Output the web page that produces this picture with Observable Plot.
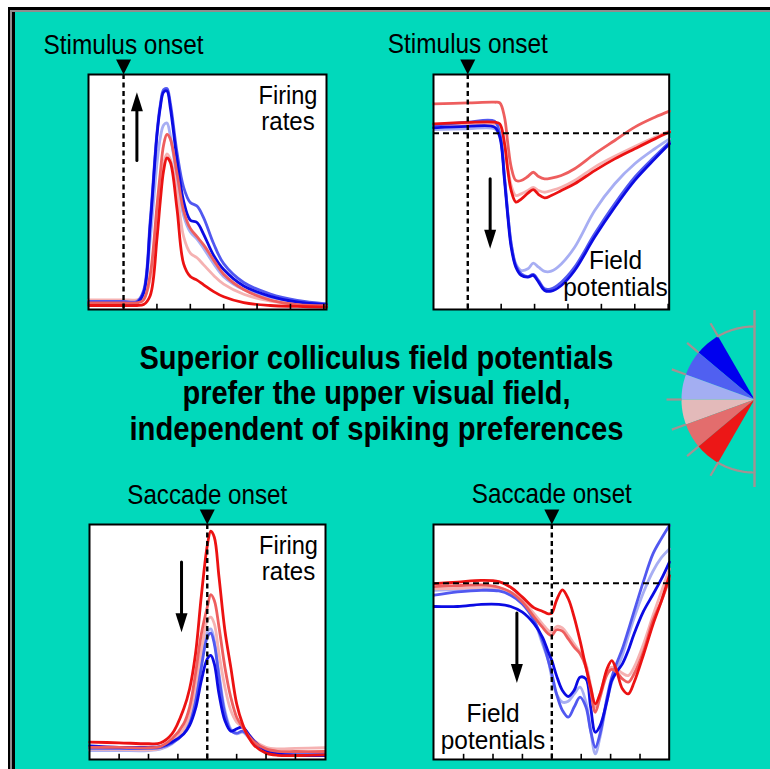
<!DOCTYPE html>
<html>
<head>
<meta charset="utf-8">
<script src="https://cdn.jsdelivr.net/npm/d3@7"></script>
<script src="https://cdn.jsdelivr.net/npm/@observablehq/plot@0.6"></script>
<style>
html, body { margin: 0; padding: 0; background: #fff; }
#root { position: relative; width: 770px; height: 769px; overflow: hidden; background: #fff; }
.blk { position: absolute; }
</style>
</head>
<body>
<div id="root"></div>
<script>
// ---------- DATA ----------
// Panel A: firing rates aligned to stimulus onset (time in ms, value in % of panel height)
const stimTimes = [-52,-20,0,20,30,40,50,55,60,65,70,80,90,100,110,120,135,150,180,220,260,304];
const stimFR_darkBlue  = [2.7,2.7,2.7,2.8,7,36,74,86,92.5,93,86,64,46,38,37,32,23,17,10,5.6,3.2,2];
const stimFR_medBlue   = [3.4,3.4,3.4,3.4,8,38,75,87,93.5,94,88,67,52,45.5,44,39,28,19.5,11.5,6.6,3.9,2.4];
const stimFR_lightBlue = [3.8,3.8,3.8,3.8,7,30,62,73,78.5,79.3,74,56,40,33,30,26,19.5,14,8.5,5.2,3.2,2.4];
const stimFR_pink      = [4.1,4.1,4.1,4.1,4.8,13,38,52,62,66.2,64,50,31,24,22,19,14.5,10.8,6.5,3.6,2.4,2];
const stimFR_salmon    = [2.8,2.8,2.8,2.8,4,15,44,58,70,74.5,72.6,58,42,34.5,31,27.5,21,15,8.5,4,2.1,1.6];
const stimFR_red       = [1.7,1.7,1.7,1.7,2.1,6,30,46,59,64.5,62.7,43,19.4,14,12.5,10.5,7.6,5.4,2.9,1.7,1.3,1];

// Panel B: field potentials aligned to stimulus onset
const stimLfpTimes = [-51,0,40,48,55,60,65,72,80,90,98,106,115,125,140,160,190,220,250,280,302];
const stimLFP_salmon    = [87.5,87.9,88.2,87.9,81.8,70.5,60.6,54.9,54.9,56.6,58.4,56.6,55.6,55.9,57,59.9,66.2,71.9,77.6,81.8,84.4];
const stimLFP_red       = [79,79.6,79.7,79,70.5,59.1,50.6,45.7,47,49.5,51,48.9,47.5,48.5,50.6,53.5,59.1,64.1,68.4,72.6,75.5];
const stimLFP_pink      = [78.3,78.6,78.9,78.5,71.3,60.6,52.8,48.5,49.2,50.6,52,50.6,49.9,50.6,52,54.9,60.6,65.2,69.4,73.3,75.9];
const stimLFP_darkBlue  = [77.3,77.9,77.6,73.3,54.9,39.3,26.5,18,14.5,13.8,14.5,11.6,8.1,7.8,10.2,16.6,30.8,43.5,54.9,64.1,70.5];
const stimLFP_medBlue   = [78.3,79.7,80.1,74.8,56.3,40.7,28,18.7,15.2,14,14.9,12.3,8.8,8.8,11.6,18,32.2,45,56.3,65.1,71.2];
const stimLFP_lightBlue = [76.5,76.9,76.9,74,56.3,40.7,28,19.4,16.6,17.3,19.7,18,16.2,16.3,19.4,26.5,42.1,53.5,62,68.4,72.6];

// Panel C: firing rates aligned to saccade onset
const sacTimes = [-100,-75,-50,-40,-30,-20,-15,-10,-5,0,3,6,10,15,20,25,30,35,40,50,60,75,100];
const sacFR_red       = [7.4,7.1,6.7,7.0,10.9,21.6,30.1,45,69.8,91,97.2,94.6,77.6,54.9,39.3,23.7,15.2,9.5,6,2.7,1.8,1.7,2];
const sacFR_salmon    = [5.2,5.2,5,5.5,8.8,15.2,22.3,36.5,53.5,64.8,70.2,67.7,56.3,39.3,26.5,18,13.8,10.2,7.4,4.5,3.5,3.4,3.4];
const sacFR_pink      = [4.4,4.3,4.1,4.7,7.4,13,18.7,30.8,46.4,59.1,60.6,57.7,45,30.8,20.9,15.9,13.8,10.9,8.1,5.2,4.5,4.7,5];
const sacFR_lightBlue = [3.8,3.8,3.8,4.4,6.7,11.6,16.6,26.5,42.1,54.2,55.6,50.6,36.5,20.9,13,10.9,11.6,9.5,7,3.8,2.7,2.4,2.4];
const sacFR_medBlue   = [4.7,4.7,4.7,5,7,10.9,15.2,24.4,39.3,52,53.8,49.2,35,19.4,12.3,11.2,12.1,10.2,7.4,3.8,2.7,2.1,2.1];
const sacFR_darkBlue  = [5.8,5.2,5.2,5.5,7.4,10.9,14.5,21.6,33.6,42.8,44.3,40.7,27.9,16.6,12.1,13,13.8,10.9,7.8,3.8,2.4,1.7,1.7];

// Panel D: field potentials aligned to saccade onset
const sacLfpTimes = [-100,-80,-60,-45,-35,-25,-15,-8,-3,0,4,9,14,19,24,29,33,37,41,47,51,55,60,65,70,78,86,93,100];
const sacLFP_red       = [74.8,75.5,76.2,75.7,73.3,69.1,64.5,63.1,62,62.3,67.7,72.2,68.4,60.6,50.6,39.3,30.8,23.7,27.9,38.6,42.1,37.9,30.1,27.9,32.9,44.7,57.4,67.2,78.3];
const sacLFP_salmon    = [73.6,74,74.3,73.3,71.2,67,60.6,56.3,53.5,52.8,55.2,54.6,51.3,47.8,45,39.3,29.4,20.1,26.5,36.2,38.3,37.2,34.3,32.9,36.5,46.1,59.1,67.2,76.9];
const sacLFP_pink      = [72.6,72.8,73.3,73,71.2,67.7,62,57.7,54.9,54.2,56.6,56,52.8,49.2,45.7,40.7,31.6,22.3,27.9,37.2,39.3,38.6,36.7,35.7,39.3,49.2,61.3,71.2,81.1];
const sacLFP_darkBlue  = [65.1,65.1,66,66,65.1,62.7,57.7,52.1,45.7,42.1,35.7,29.4,26.8,29.4,35,34.3,22.3,11.6,14.3,25,33.6,37.2,40.7,46.4,53.5,63.1,70.2,76.6,84];
const sacLFP_medBlue   = [69.9,71.3,72,71.7,69.9,66.2,59.1,50.6,42.1,36.5,27.9,20.9,18,22.3,26.5,22.3,12.3,5.2,10.9,26.5,35,40.7,47.1,54.9,63.1,75.9,87.5,93.9,99.6];
const sacLFP_lightBlue = [72,72.3,72.6,72.6,71.2,67,59.1,49.2,42.1,34.8,27.9,24.4,24.8,27.9,30.8,24.4,12.3,2.4,9.5,25,32.9,37.9,44.3,52.5,60.3,71.2,80.1,85.8,89.6];

// Axis ticks
const stimTicks = [0,50,100,150,200,250,300];
const sacTicks = [-75,-50,-25,0,25,50,75];
// Baseline reference for field potentials
const lfpBaseline = 75;

// Arrows: [time, from, to]
const arrowStimFR  = [20, 63.4, 92.5];
const arrowStimLFP = [33.5, 55.6, 25.8];
const arrowSacFR   = [-21.9, 84, 54.2];
const arrowSacLFP  = [-29.7, 62.3, 32.5];

// Texts
const headerStim = "Stimulus onset";
const headerSac = "Saccade onset";
const labelFR = ["Firing", "rates"];
const labelLFP = ["Field", "potentials"];
const titleLines = ["Superior colliculus field potentials", "prefer the upper visual field,", "independent of spiking preferences"];

// Fan (visual field) diagram: wedge edges in degrees (0 = horizontal, + = upper)
const fanEdges = [60, 40, 20, 0, -20, -40, -60];
const fanColors = ["#0000EE", "#5060F1", "#A3AEF2", "#E3BABA", "#E36D6D", "#EC1717"];

// ---------- STYLE ----------
const COLORS = {lightBlue: "#A7AEF3", pink: "#F5B2B2", medBlue: "#5158F0", darkBlue: "#0B0BE3", salmon: "#EE5E5E", red: "#EC1212"};
const seriesOrder = ["lightBlue", "pink", "medBlue", "darkBlue", "salmon", "red"];
const FONT = "Liberation Sans, Arial, Helvetica, sans-serif";
const TEAL = "#01D9BB";
const GRAY = "#A49292";

const textWidths = {
  "Stimulus onset": 160, "Saccade onset": 160,
  "Firing": 59, "rates": 53.5, "Field": 53, "potentials": 104.5,
  "Superior colliculus field potentials": 474,
  "prefer the upper visual field,": 388,
  "independent of spiking preferences": 494
};

const triDown = {draw(ctx) { ctx.moveTo(0, 0); ctx.lineTo(-7.5, -15); ctx.lineTo(7.5, -15); ctx.closePath(); }};
const arrowUp = {draw(ctx) { ctx.moveTo(0, 0); ctx.lineTo(6, 19); ctx.lineTo(-6, 19); ctx.closePath(); }};
const arrowDown = {draw(ctx) { ctx.moveTo(0, 0); ctx.lineTo(6, -19); ctx.lineTo(-6, -19); ctx.closePath(); }};

const root = document.getElementById("root");
function addBlock(left, top, color) {
  const d = document.createElement("div");
  d.className = "blk";
  Object.assign(d.style, {left: left + "px", top: top + "px", right: "0px", bottom: "0px", background: color});
  root.appendChild(d);
}
addBlock(8, 7, "#000");
addBlock(10, 10, "#8e8e8e");
addBlock(12, 12, "#000");
addBlock(15, 12, TEAL);

function place(svg, left, top) {
  svg.style.position = "absolute";
  svg.style.left = left + "px";
  svg.style.top = top + "px";
  root.appendChild(svg);
  svg.querySelectorAll("text").forEach(t => {
    const w = textWidths[t.textContent];
    if (w) { t.setAttribute("textLength", w); t.setAttribute("lengthAdjust", "spacingAndGlyphs"); }
  });
}

const panels = [
  {box: [88, 74, 326, 309], xDomain: [-52.5, 304], times: stimTimes,
   values: {darkBlue: stimFR_darkBlue, medBlue: stimFR_medBlue, lightBlue: stimFR_lightBlue, pink: stimFR_pink, salmon: stimFR_salmon, red: stimFR_red},
   ticks: stimTicks, header: headerStim, hline: null, arrow: arrowStimFR,
   labels: [{text: labelFR[0], anchor: "top-right", dx: -38.5, dy: 29.5}, {text: labelFR[1], anchor: "top-right", dx: -38.5, dy: 55.5}]},
  {box: [433, 74, 668.7, 309], xDomain: [-51.3, 301.5], times: stimLfpTimes,
   values: {darkBlue: stimLFP_darkBlue, medBlue: stimLFP_medBlue, lightBlue: stimLFP_lightBlue, pink: stimLFP_pink, salmon: stimLFP_salmon, red: stimLFP_red},
   ticks: stimTicks, header: headerStim, hline: lfpBaseline, arrow: arrowStimLFP,
   labels: [{text: labelLFP[0], anchor: "top-right", dx: -53.7, dy: 195}, {text: labelLFP[1], anchor: "top-right", dx: -53.7, dy: 222}]},
  {box: [89, 524, 325, 759], xDomain: [-100.2, 100.6], times: sacTimes,
   values: {darkBlue: sacFR_darkBlue, medBlue: sacFR_medBlue, lightBlue: sacFR_lightBlue, pink: sacFR_pink, salmon: sacFR_salmon, red: sacFR_red},
   ticks: sacTicks, header: headerSac, hline: null, arrow: arrowSacFR,
   labels: [{text: labelFR[0], anchor: "top-right", dx: -37, dy: 29}, {text: labelFR[1], anchor: "top-right", dx: -37, dy: 55}]},
  {box: [433, 524, 668.7, 759], xDomain: [-100.6, 99.8], times: sacLfpTimes,
   values: {darkBlue: sacLFP_darkBlue, medBlue: sacLFP_medBlue, lightBlue: sacLFP_lightBlue, pink: sacLFP_pink, salmon: sacLFP_salmon, red: sacLFP_red},
   ticks: sacTicks, header: headerSac, hline: lfpBaseline, arrow: arrowSacLFP,
   labels: [{text: labelLFP[0], anchor: "top-left", dx: 59.5, dy: 197.5}, {text: labelLFP[1], anchor: "top-left", dx: 59.5, dy: 225}]}
];

const mL = 70, mT = 64, mR = 14, mB = 14;
for (const p of panels) {
  const [x0, y0, x1, y1] = p.box;
  const marks = [Plot.frame({fill: "white", stroke: "none"})];
  for (const key of seriesOrder) {
    marks.push(Plot.line(p.times, {x: p.times, y: p.values[key], stroke: COLORS[key], strokeWidth: 2.8,
      curve: "catmull-rom", strokeLinejoin: "round", strokeLinecap: "round"}));
  }
  if (p.hline != null) marks.push(Plot.ruleY([p.hline], {stroke: "black", strokeWidth: 2.2, strokeDasharray: "6,4"}));
  marks.push(Plot.ruleX([0], {stroke: "black", strokeWidth: 2.4, strokeDasharray: "5,3.5"}));
  marks.push(Plot.ruleX(p.ticks, {y1: 0, y2: 2.2, stroke: "black", strokeWidth: 1.6}));
  marks.push(Plot.frame({stroke: "black", strokeWidth: 2}));
  marks.push(Plot.dot([0], {x: d => d, frameAnchor: "top", symbol: triDown, fill: "black", stroke: "none"}));
  marks.push(Plot.text([p.header], {x: () => 0, text: d => d, frameAnchor: "top", dy: -21, lineAnchor: "bottom",
    fontSize: 27, fontFamily: FONT, fill: "black"}));
  for (const l of p.labels) {
    marks.push(Plot.text([l.text], {text: d => d, frameAnchor: l.anchor, dx: l.dx, dy: l.dy, textAnchor: "middle",
      lineAnchor: "bottom", fontSize: 25, fontFamily: FONT, fill: "black"}));
  }
  const arr = [{t: p.arrow[0], from: p.arrow[1], to: p.arrow[2]}];
  marks.push(Plot.arrow(arr, {x1: "t", x2: "t", y1: "from", y2: "to", stroke: "black", strokeWidth: 3, headLength: 0, insetEnd: 12}));
  marks.push(Plot.dot(arr, {x: "t", y: "to", symbol: arr[0].to > arr[0].from ? arrowUp : arrowDown, fill: "black", stroke: "none"}));

  const svg = Plot.plot({
    width: (x1 - x0) + mL + mR, height: (y1 - y0) + mT + mB,
    marginLeft: mL, marginTop: mT, marginRight: mR, marginBottom: mB,
    x: {domain: p.xDomain, axis: null},
    y: {domain: [0, 100], axis: null},
    style: {background: "none", overflow: "visible", maxWidth: "none"},
    marks
  });
  place(svg, x0 - mL, y0 - mT);
}

// ---------- TITLE ----------
const titleBaselines = [368, 403, 439];
const titleSvg = Plot.plot({
  width: 770, height: 130, margin: 0,
  style: {background: "none", overflow: "visible", maxWidth: "none"},
  marks: titleLines.map((line, i) => Plot.text([line], {text: d => d, frameAnchor: "top-left", dx: 376, dy: titleBaselines[i] - 330,
    textAnchor: "middle", lineAnchor: "bottom", fontSize: 34, fontWeight: "bold", fontFamily: FONT, fill: "black"}))
});
place(titleSvg, 0, 330);

// ---------- FAN ----------
const FAN_R = 73, FAN_TICK_R = 88;
const rad = a => a * Math.PI / 180;
function arcPts(a0, a1, r) {
  const pts = [];
  const n = Math.max(2, Math.ceil(Math.abs(a1 - a0) / 2));
  for (let k = 0; k <= n; k++) {
    const a = a0 + (a1 - a0) * k / n;
    pts.push({x: -r * Math.cos(rad(a)), y: r * Math.sin(rad(a))});
  }
  return pts;
}
const fanMarks = [];
for (let i = 0; i < fanColors.length; i++) {
  const pts = [{x: 0, y: 0}, ...arcPts(fanEdges[i], fanEdges[i + 1], FAN_R), {x: 0, y: 0}];
  fanMarks.push(Plot.line(pts, {x: "x", y: "y", fill: fanColors[i], stroke: "none", curve: "linear"}));
}
fanMarks.push(Plot.line(arcPts(fanEdges[0], 90, FAN_R), {x: "x", y: "y", stroke: GRAY, strokeWidth: 2.2}));
fanMarks.push(Plot.line(arcPts(fanEdges[fanEdges.length - 1], -90, FAN_R), {x: "x", y: "y", stroke: GRAY, strokeWidth: 2.2}));
fanMarks.push(Plot.link(fanEdges, {
  x1: a => -FAN_R * Math.cos(rad(a)), y1: a => FAN_R * Math.sin(rad(a)),
  x2: a => -FAN_TICK_R * Math.cos(rad(a)), y2: a => FAN_TICK_R * Math.sin(rad(a)),
  stroke: GRAY, strokeWidth: 2.2}));
fanMarks.push(Plot.ruleX([0], {y1: -88, y2: 89, stroke: GRAY, strokeWidth: 2.4}));
const fanSvg = Plot.plot({
  width: 120, height: 200, margin: 0,
  x: {domain: [-104, 16], axis: null},
  y: {domain: [-100, 100], axis: null},
  style: {background: "none", overflow: "visible", maxWidth: "none"},
  marks: fanMarks
});
place(fanSvg, 650.3, 299);
</script>
</body>
</html>
